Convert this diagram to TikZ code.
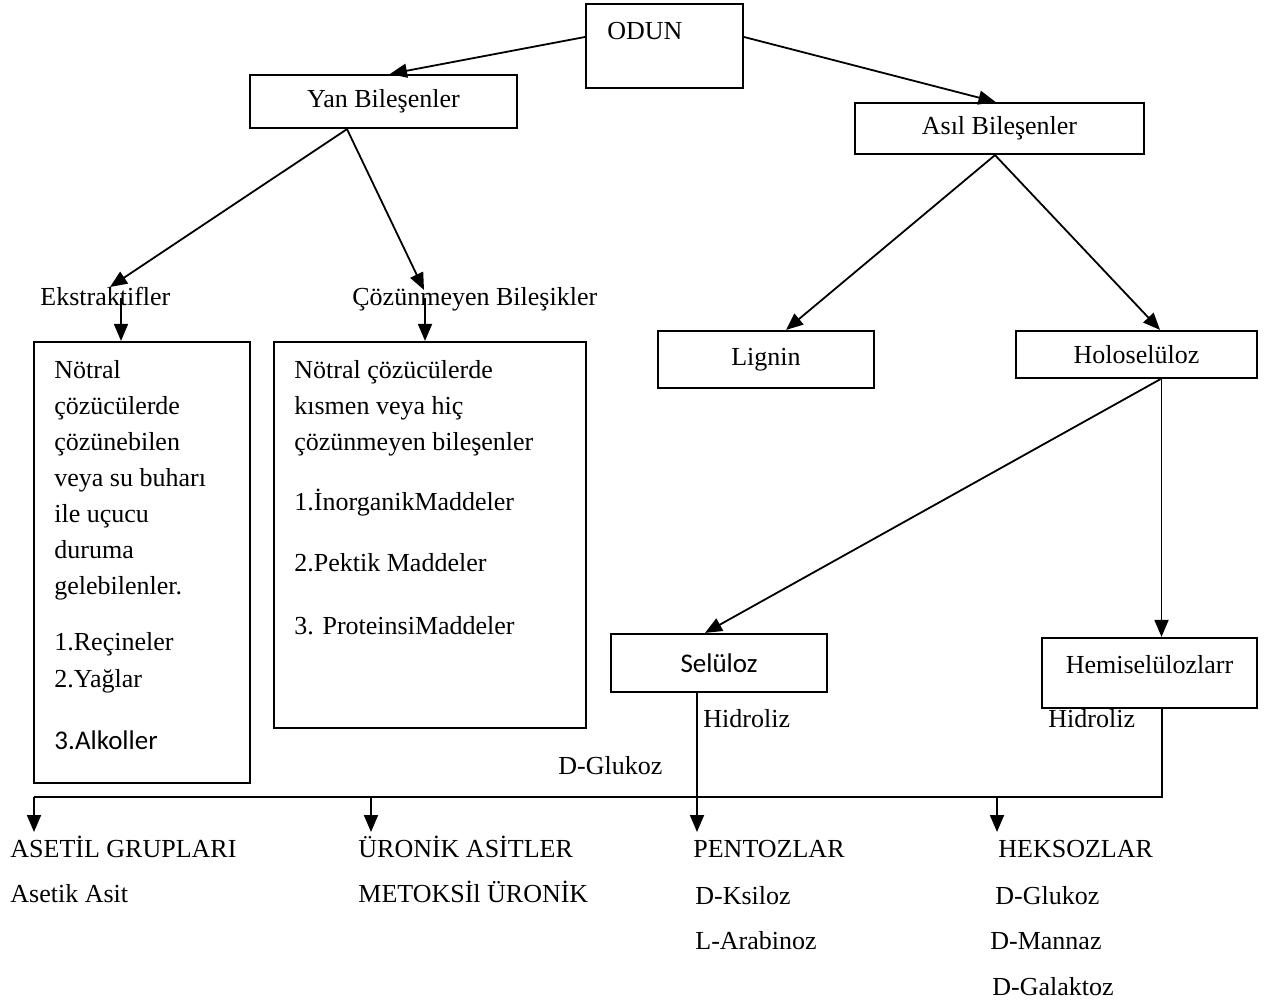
\documentclass[tikz,border=0pt]{standalone}
\usepackage{fontspec}
\setmainfont{Liberation Serif}
\newfontfamily\calib{Carlito}
\usetikzlibrary{arrows.meta}
\begin{document}
\begin{tikzpicture}[x=0.5pt,y=-0.5pt,
  box/.style={draw, line width=1.1pt, inner sep=0pt},
  conn/.style={line width=0.9pt},
  arr/.style={conn, -{Triangle[length=8.5pt,width=7pt]}},
  txt/.style={anchor=west, inner sep=0pt, text height=8.6pt, text depth=0pt},
  font=\fontsize{13}{15}\selectfont]
\useasboundingbox (0,0) rectangle (1269,1003);
% boxes
\node[box, minimum width=78.5pt, minimum height=42pt] (odun) at (664.5,46) {};
\node[txt] (odunt) at (607,31) {ODUN};
\node[box, minimum width=133.5pt, minimum height=26.5pt] (yan) at (383.5,101.5) {Yan Bileşenler};
\node[box, minimum width=144.5pt, minimum height=25.5pt] (asil) at (999.5,128.5) {Asıl Bileşenler};
\node[box, minimum width=108pt, minimum height=28.5pt] (lignin) at (766,359.5) {Lignin};
\node[box, minimum width=120.5pt, minimum height=23.5pt] (holo) at (1136.5,354.5) {Holoselüloz};
\node[box, minimum width=108pt, minimum height=29pt, font=\calib\fontsize{13.5}{15}\selectfont] (selu) at (719,663) {Selüloz};
\node[box, minimum width=107.5pt, minimum height=35pt] (hemi) at (1149.5,673) {};
\node[txt, anchor=center] (hemit) at (1149.5,665) {Hemiselülozlarr};
\node[box, minimum width=108pt, minimum height=220.5pt] (lbox) at (142,562.5) {};
\node[box, minimum width=156pt, minimum height=193pt] (mbox) at (430,535) {};
% labels
\node[txt] (ekst) at (40,297) {Ekstraktifler};
\node[txt] (cozb) at (352,297) {Çözünmeyen Bileşikler};
% left box text
\node[txt] (l1) at (54,370) {Nötral};
\node[txt] (l2) at (54,406) {çözücülerde};
\node[txt] (l3) at (54,442) {çözünebilen};
\node[txt] (l4) at (54,478) {veya su buharı};
\node[txt] (l5) at (54,514) {ile uçucu};
\node[txt] (l6) at (54,550) {duruma};
\node[txt] (l7) at (54,586) {gelebilenler.};
\node[txt] (l8) at (54,642) {1.Reçineler};
\node[txt] (l9) at (54,679) {2.Yağlar};
\node[txt, font=\calib\fontsize{13.5}{15}\selectfont] (l10) at (54,741) {3.Alkoller};
% middle box text
\node[txt] (m1) at (294,370) {Nötral çözücülerde};
\node[txt] (m2) at (294,406) {kısmen veya hiç};
\node[txt] (m3) at (294,442) {çözünmeyen bileşenler};
\node[txt] (m4) at (294,502) {1.İnorganikMaddeler};
\node[txt] (m5) at (294,563) {2.Pektik Maddeler};
\node[txt] (m6) at (294,626) {3. ProteinsiMaddeler};
% hydrolysis labels
\node[txt] (hid1) at (703,719) {Hidroliz};
\node[txt] (hid2) at (1048,719) {Hidroliz};
\node[txt] (dglu1) at (558,766) {D-Glukoz};
% bottom texts
\node[txt] (ase) at (10,849) {ASETİL GRUPLARI};
\node[txt] (asa) at (10,894) {Asetik Asit};
\node[txt] (uro) at (358,849) {ÜRONİK ASİTLER};
\node[txt] (met) at (358,894) {METOKSİl ÜRONİK};
\node[txt] (pen) at (693,849) {PENTOZLAR};
\node[txt] (dks) at (695,896) {D-Ksiloz};
\node[txt] (lar) at (695,941) {L-Arabinoz};
\node[txt] (hek) at (998,849) {HEKSOZLAR};
\node[txt] (dglu2) at (995,896) {D-Glukoz};
\node[txt] (dman) at (990,941) {D-Mannaz};
\node[txt] (dgal) at (992,987) {D-Galaktoz};
% coordinates
\coordinate (ektip) at (110,287);
\coordinate (coztip) at (424,290);
\coordinate (ekdown) at (121,298);
\coordinate (czdown) at (425,298);
\coordinate (barL) at (34,797);
\coordinate (b2) at (371,797);
\coordinate (b4) at (997,797);
\coordinate (tipy) at (0,832);
% connectors
\draw[arr] ([yshift=4.5pt]odun.west) -- ([xshift=3.25pt]yan.north);
\draw[arr] ([yshift=4.5pt]odun.east) -- ([xshift=-2pt]asil.north);
\draw[arr] ([xshift=-18.25pt]yan.south) -- (ektip);
\draw[arr] ([xshift=-18.25pt]yan.south) -- (coztip);
\draw[arr] (ekdown) -- (ekdown |- lbox.north);
\draw[arr] (czdown) -- (czdown |- mbox.north);
\draw[arr] ([xshift=-2.25pt]asil.south) -- ([xshift=10pt]lignin.north);
\draw[arr] ([xshift=-2.25pt]asil.south) -- ([xshift=11.75pt]holo.north);
\draw[arr] ([xshift=12pt]holo.south) -- ([xshift=-7pt]selu.north);
\draw[arr] ([xshift=12.5pt]holo.south) -- ([xshift=12.5pt]holo.south |- hemi.north);
\draw[arr] ([xshift=-11pt]selu.south) -- ([xshift=-11pt]selu.south |- tipy);
\draw[conn] ([xshift=6.25pt]hemi.south) |- (barL);
\draw[arr] (barL) -- (barL |- tipy);
\draw[arr] (b2) -- (b2 |- tipy);
\draw[arr] (b4) -- (b4 |- tipy);
\end{tikzpicture}
\end{document}
